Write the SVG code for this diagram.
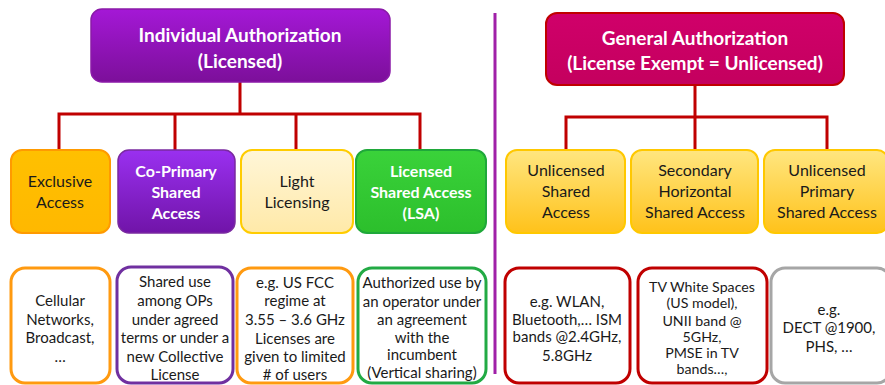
<svg xmlns="http://www.w3.org/2000/svg" width="885" height="385" viewBox="0 0 885 385">
<defs>
<linearGradient id="gPurpleHead" x1="0" y1="0" x2="0" y2="1"><stop offset="0" stop-color="#a418d6"/><stop offset="1" stop-color="#7c0f9a"/></linearGradient>
<linearGradient id="gPurple" x1="0" y1="0" x2="0" y2="1"><stop offset="0" stop-color="#9a30f0"/><stop offset="1" stop-color="#7014a8"/></linearGradient>
<linearGradient id="gOrange" x1="0" y1="0" x2="0" y2="1"><stop offset="0" stop-color="#ffc000"/><stop offset="1" stop-color="#ffb800"/></linearGradient>
<linearGradient id="gLight" x1="0" y1="0" x2="0" y2="1"><stop offset="0" stop-color="#fff6d8"/><stop offset="1" stop-color="#ffe9a8"/></linearGradient>
<linearGradient id="gGreen" x1="0" y1="0" x2="0" y2="1"><stop offset="0" stop-color="#3ad23a"/><stop offset="1" stop-color="#2cbf2c"/></linearGradient>
<linearGradient id="gYellow" x1="0" y1="0" x2="0" y2="1"><stop offset="0" stop-color="#ffe680"/><stop offset="1" stop-color="#ffc21a"/></linearGradient>
<linearGradient id="gCrimson" x1="0" y1="0" x2="0" y2="1"><stop offset="0" stop-color="#d0006a"/><stop offset="1" stop-color="#c4005e"/></linearGradient>
</defs>
<style>
text{font-family:Lato,"Open Sans","Liberation Sans",sans-serif;text-anchor:middle;}
.hd{font-size:19px;font-weight:bold;fill:#ffffff;}
.l2{font-size:16px;fill:#1a1a1a;}
.l2w{font-size:16px;font-weight:bold;fill:#ffffff;}
.l3{font-size:15px;fill:#1a1a1a;}
.l3s{font-size:14.2px;fill:#1a1a1a;}
.conn{fill:none;stroke:#c00000;stroke-width:3;}
.ex{fill:#ffffff;stroke-width:3;}
</style>
<line x1="495" y1="13" x2="495" y2="374" stroke="#a020a8" stroke-width="3"/>
<g id="connectors">
<path class="conn" d="M240 82 V114 M59 150 V114 H420 V150 M175 114 V150 M296 114 V150"/>
<path class="conn" d="M695 85 V117 M566 150 V117 H827 V150 M695 117 V150"/>
</g>
<g id="individual">
<rect x="91" y="9" width="299" height="73" rx="11" fill="url(#gPurpleHead)" stroke="#8a1aa8" stroke-width="1.5"/>
<text class="hd" x="240" y="42">Individual Authorization</text>
<text class="hd" x="240" y="68">(Licensed)</text>
</g>
<g id="general">
<rect x="546" y="13" width="298" height="72" rx="11" fill="url(#gCrimson)" stroke="#c00000" stroke-width="2"/>
<text class="hd" x="695" y="45">General Authorization</text>
<text class="hd" x="695" y="70">(License Exempt = Unlicensed)</text>
</g>
<g id="exclusive">
<rect x="11" y="150" width="99" height="83" rx="11" fill="url(#gOrange)" stroke="#ff9a00" stroke-width="2"/>
<text class="l2" x="60" y="187">Exclusive</text>
<text class="l2" x="60" y="208">Access</text>
</g>
<g id="coprimary">
<rect x="118" y="150" width="117" height="83" rx="11" fill="url(#gPurple)" stroke="#7a2aa0" stroke-width="1.5"/>
<text class="l2w" x="176" y="177">Co-Primary</text>
<text class="l2w" x="176" y="198">Shared</text>
<text class="l2w" x="176" y="219">Access</text>
</g>
<g id="light">
<rect x="241" y="150" width="112" height="83" rx="11" fill="url(#gLight)" stroke="#ffcc00" stroke-width="2"/>
<text class="l2" x="297" y="187">Light</text>
<text class="l2" x="297" y="208">Licensing</text>
</g>
<g id="lsa">
<rect x="356" y="150" width="130" height="83" rx="11" fill="url(#gGreen)" stroke="#1fa83a" stroke-width="2"/>
<text class="l2w" x="421" y="177">Licensed</text>
<text class="l2w" x="421" y="198">Shared Access</text>
<text class="l2w" x="421" y="219">(LSA)</text>
</g>
<g id="unlicshared">
<rect x="506" y="150" width="119" height="83" rx="11" fill="url(#gYellow)" stroke="#ffc800" stroke-width="2"/>
<text class="l2" x="566" y="176">Unlicensed</text>
<text class="l2" x="566" y="197">Shared</text>
<text class="l2" x="566" y="218">Access</text>
</g>
<g id="secondary">
<rect x="631" y="150" width="127" height="83" rx="11" fill="url(#gYellow)" stroke="#ffc800" stroke-width="2"/>
<text class="l2" x="695" y="176">Secondary</text>
<text class="l2" x="695" y="197">Horizontal</text>
<text class="l2" x="695" y="218">Shared Access</text>
</g>
<g id="unlicprimary">
<rect x="764" y="150" width="124" height="83" rx="11" fill="url(#gYellow)" stroke="#ffc800" stroke-width="2"/>
<text class="l2" x="827" y="176">Unlicensed</text>
<text class="l2" x="827" y="197">Primary</text>
<text class="l2" x="827" y="218">Shared Access</text>
</g>
<g id="ex-exclusive">
<rect class="ex" x="11" y="268" width="99" height="115" rx="14" stroke="#ff9a10"/>
<text class="l3" x="60" y="306">Cellular</text>
<text class="l3" x="60" y="325">Networks,</text>
<text class="l3" x="60" y="343">Broadcast,</text>
<text class="l3" x="60" y="362">…</text>
</g>
<g id="ex-coprimary">
<rect class="ex" x="117" y="267" width="116" height="116" rx="14" stroke="#7030a0"/>
<text class="l3" x="175" y="287">Shared use</text>
<text class="l3" x="175" y="306">among OPs</text>
<text class="l3" x="175" y="325">under agreed</text>
<text class="l3" x="175" y="343">terms or under a</text>
<text class="l3" x="175" y="362">new Collective</text>
<text class="l3" x="175" y="380">License</text>
</g>
<g id="ex-light">
<rect class="ex" x="237" y="268" width="116" height="115" rx="14" stroke="#ff9a10"/>
<text class="l3" x="295" y="288">e.g. US FCC</text>
<text class="l3" x="295" y="306">regime at</text>
<text class="l3" x="295" y="325">3.55 – 3.6 GHz</text>
<text class="l3" x="295" y="344">Licenses are</text>
<text class="l3" x="295" y="362">given to limited</text>
<text class="l3" x="295" y="380"># of users</text>
</g>
<g id="ex-lsa">
<rect class="ex" x="358" y="268" width="128" height="115" rx="14" stroke="#22aa44"/>
<text class="l3" x="422" y="288">Authorized use by</text>
<text class="l3" x="422" y="307">an operator under</text>
<text class="l3" x="422" y="325">an agreement</text>
<text class="l3" x="422" y="343">with the</text>
<text class="l3" x="422" y="360">incumbent</text>
<text class="l3" x="422" y="378">(Vertical sharing)</text>
</g>
<g id="ex-unlicshared">
<rect class="ex" x="505" y="268" width="125" height="115" rx="14" stroke="#c00000"/>
<text class="l3" x="567" y="307">e.g. WLAN,</text>
<text class="l3" x="567" y="325">Bluetooth,… ISM</text>
<text class="l3" x="567" y="342">bands @2.4GHz,</text>
<text class="l3" x="567" y="361">5.8GHz</text>
</g>
<g id="ex-secondary">
<rect class="ex" x="638" y="268" width="129" height="115" rx="14" stroke="#c00000"/>
<text class="l3s" x="702" y="292">TV White Spaces</text>
<text class="l3s" x="702" y="308">(US model),</text>
<text class="l3s" x="702" y="326">UNII band @</text>
<text class="l3s" x="702" y="342">5GHz,</text>
<text class="l3s" x="702" y="358">PMSE in TV</text>
<text class="l3s" x="702" y="374">bands…,</text>
</g>
<g id="ex-unlicprimary">
<rect class="ex" x="771" y="268" width="120" height="115" rx="14" stroke="#a6a6a6"/>
<text class="l3" x="829" y="315">e.g.</text>
<text class="l3" x="829" y="333">DECT @1900,</text>
<text class="l3" x="829" y="352">PHS, …</text>
</g>
</svg>
